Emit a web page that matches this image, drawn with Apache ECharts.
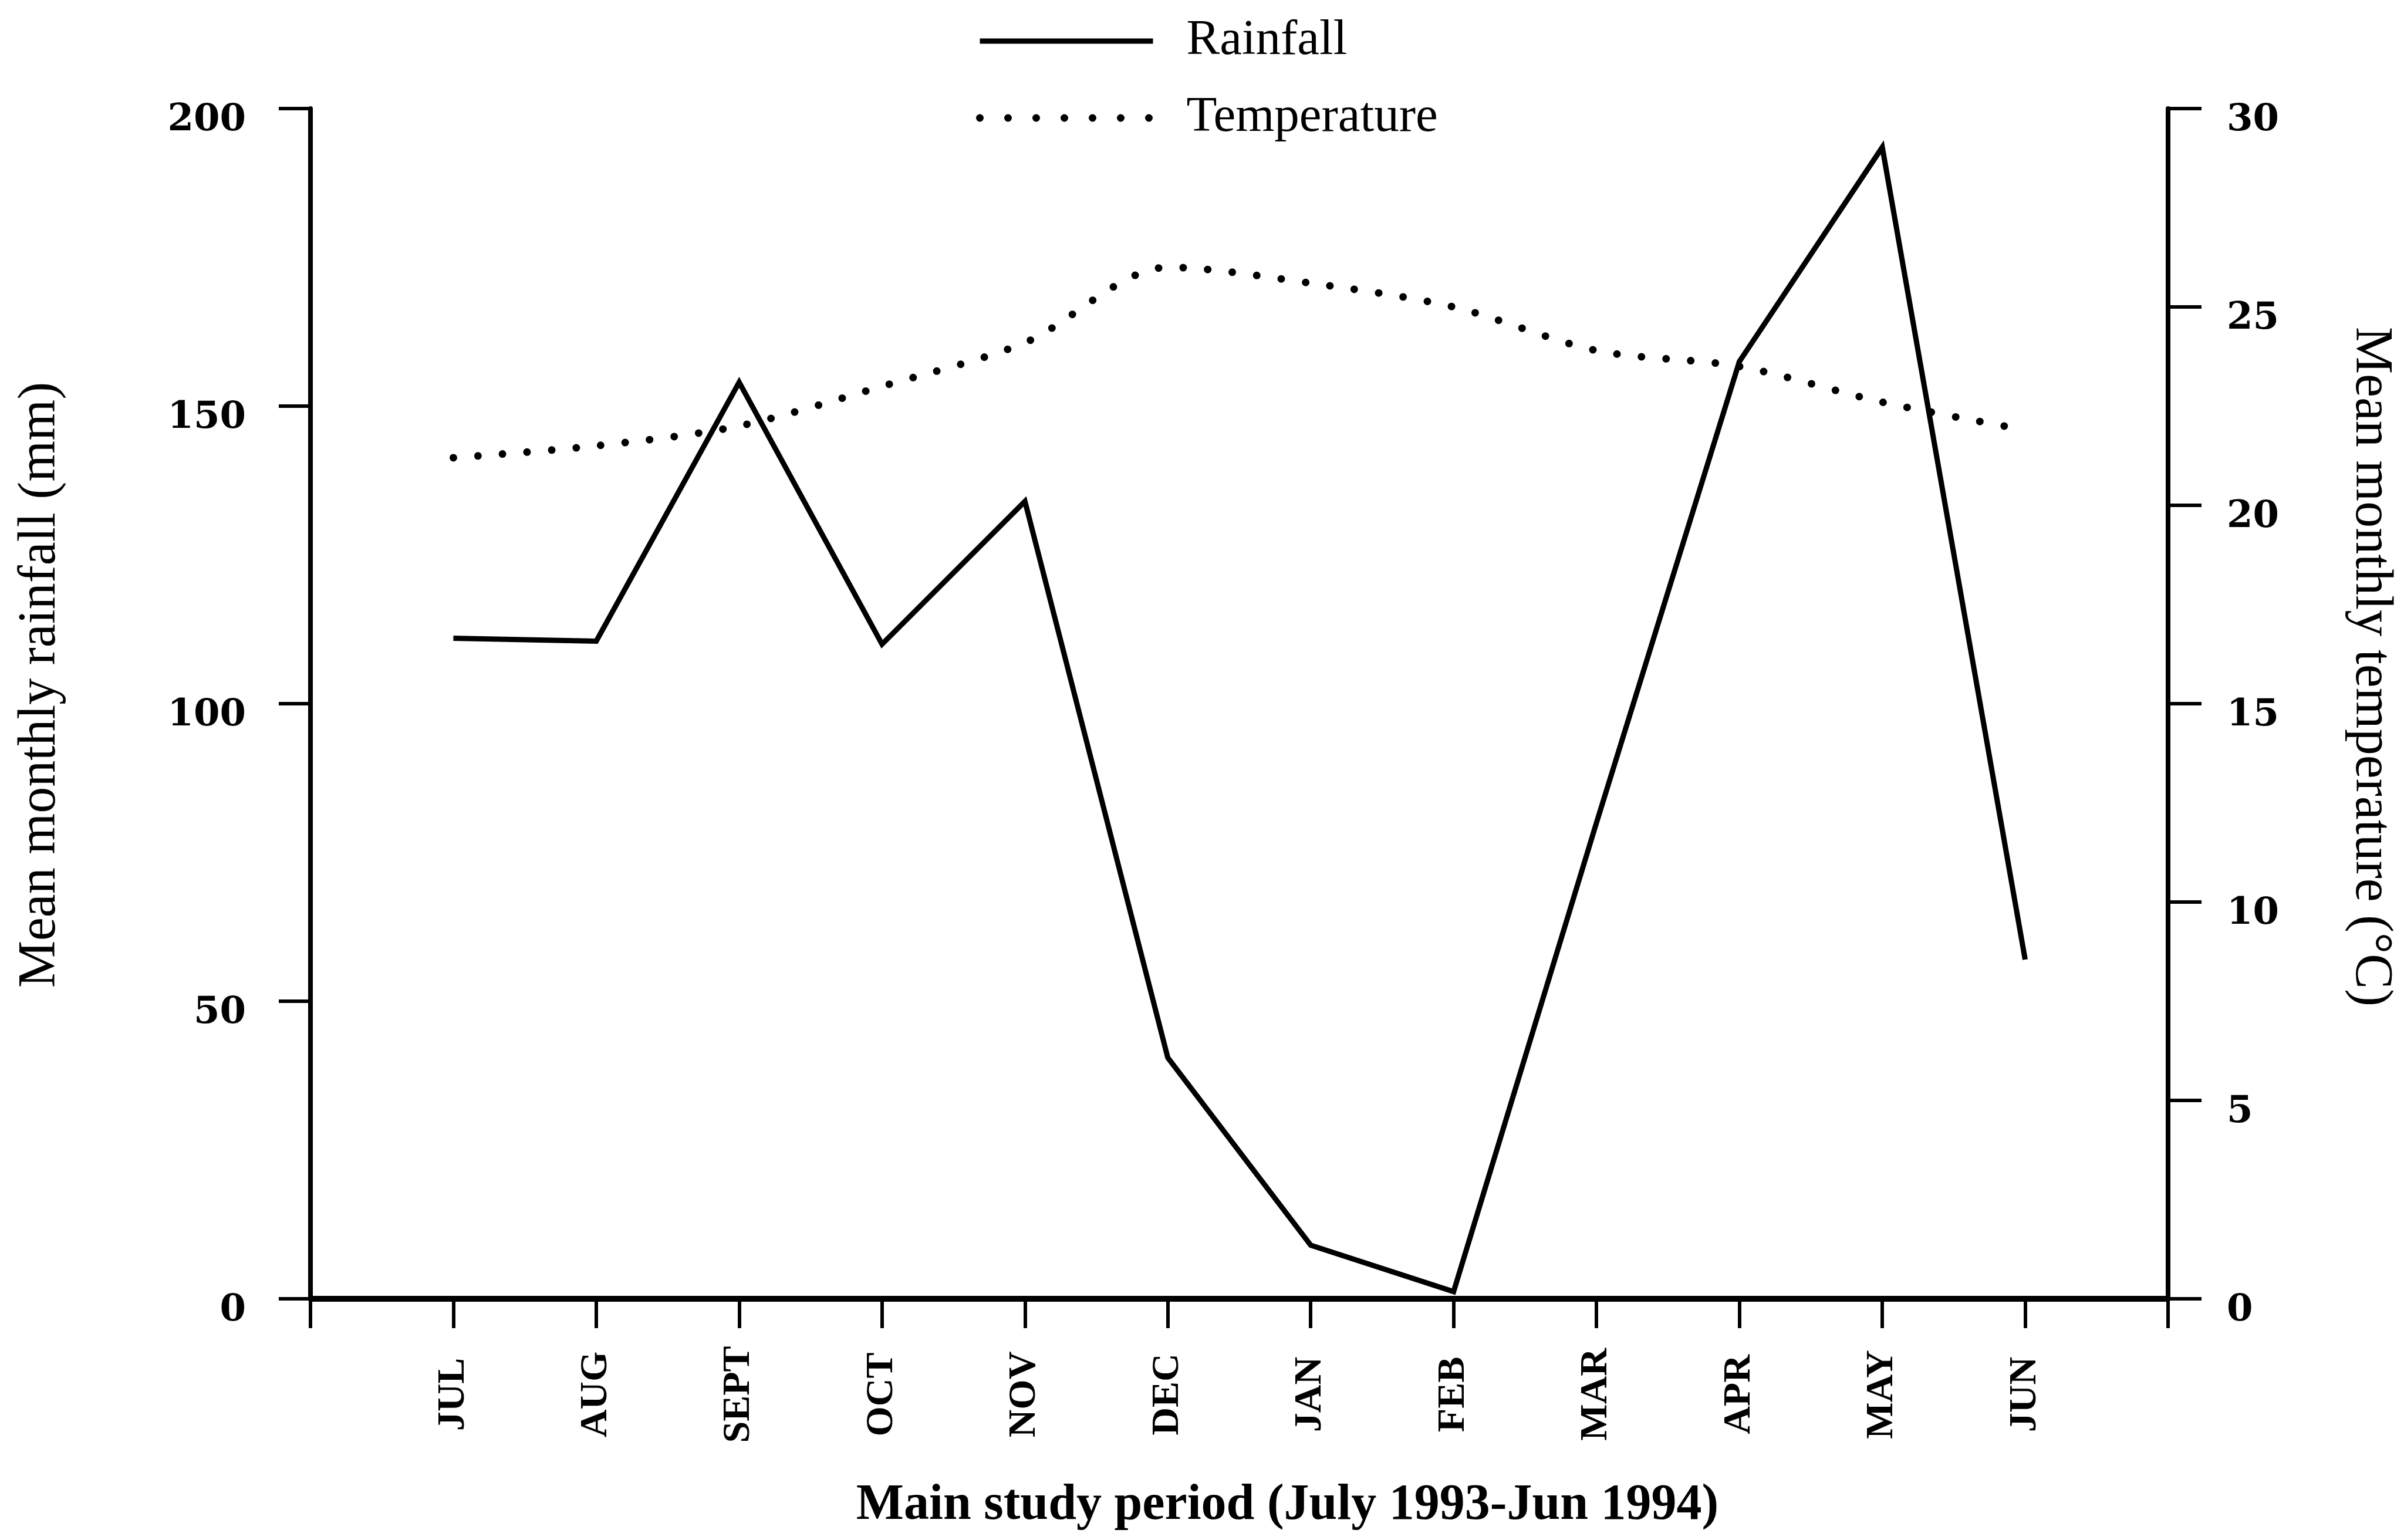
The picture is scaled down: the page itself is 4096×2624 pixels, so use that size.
<!DOCTYPE html>
<html>
<head>
<meta charset="utf-8">
<script src="https://cdn.jsdelivr.net/npm/echarts@6/dist/echarts.min.js"></script>
<style>
  html, body { margin: 0; padding: 0; background: #fff; }
  #chart { width: 4096px; height: 2624px; }
</style>
</head>
<body>
<div id="chart"></div>
<script>
const months = ['JUL', 'AUG', 'SEPT', 'OCT', 'NOV', 'DEC', 'JAN', 'FEB', 'MAR', 'APR', 'MAY', 'JUN']
const rainfall = [111, 110.5, 154, 110, 134, 40.5, 9, 1.2, 80, 157.5, 193.5, 57]
const temperature = [21.2, 21.5, 22.0, 23.0, 24.1, 26.0, 25.6, 25.0, 23.9, 23.5, 22.6, 21.9]
const rainTicks = [0, 50, 100, 150, 200]
const tempTicks = [0, 5, 10, 15, 20, 25, 30]

const serif = 'Liberation Serif'

const myChart = echarts.init(document.getElementById('chart'))

// number labels sit a little below their ticks in the original
const numLabel = {
  fontFamily: 'DejaVu Serif',
  fontWeight: 'bold',
  fontSize: 64,
  color: '#000',
  verticalAlign: 'top',
  lineHeight: 40
}

const option = {
  backgroundColor: '#fff',
  animation: false,
  color: ['#000', '#000'],
  legend: {
    orient: 'vertical',
    left: 1658,
    top: 20,
    itemWidth: 295,
    itemHeight: 30,
    itemGap: 41,
    itemStyle: { opacity: 0 },
    data: [{
      name: 'Rainfall',
      lineStyle: { color: '#000', width: 9, type: 'solid' }
    }, {
      name: 'Temperature',
      lineStyle: { color: '#000', width: 13, type: [0, 48], cap: 'round' }
    }],
    textStyle: {
      fontFamily: serif,
      fontSize: 85,
      color: '#000',
      lineHeight: 90,
      padding: [0, 0, 0, 52]
    }
  },
  grid: {
    left: 529,
    right: 402,
    top: 185,
    bottom: 411
  },
  xAxis: {
    type: 'value',
    min: 0,
    max: 13,
    interval: 1,
    name: 'Main study period (July 1993-Jun 1994)',
    nameLocation: 'middle',
    nameGap: 310,
    nameTextStyle: {
      fontFamily: serif,
      fontWeight: 'bold',
      fontSize: 86,
      color: '#000',
      padding: [0, 0, 0, 164]
    },
    axisLine: { lineStyle: { color: '#000', width: 10 } },
    axisTick: { length: 50, lineStyle: { color: '#000', width: 6 } },
    axisLabel: {
      rotate: 90,
      align: 'center',
      margin: 163,
      fontFamily: serif,
      fontWeight: 'bold',
      fontSize: 66,
      color: '#000',
      formatter: function (v) { return months[v - 1] || '' }
    },
    splitLine: { show: false }
  },
  yAxis: [{
    type: 'value',
    min: rainTicks[0],
    max: rainTicks[rainTicks.length - 1],
    interval: 50,
    name: 'Mean monthly rainfall (mm)',
    nameLocation: 'middle',
    nameGap: 415,
    nameTextStyle: {
      fontFamily: serif,
      fontSize: 90,
      color: '#000',
      padding: [0, 0, 0, 64]
    },
    axisLine: { show: true, lineStyle: { color: '#000', width: 8 } },
    axisTick: { length: 54, lineStyle: { color: '#000', width: 6 } },
    axisLabel: Object.assign({ margin: 110 }, numLabel),
    splitLine: { show: false }
  }, {
    type: 'value',
    position: 'right',
    min: tempTicks[0],
    max: tempTicks[tempTicks.length - 1],
    interval: 5,
    name: 'Mean monthly temperature (°C)',
    nameLocation: 'middle',
    nameRotate: -90,
    nameGap: 300,
    nameTextStyle: {
      fontFamily: serif,
      fontSize: 90,
      color: '#000',
      padding: [0, 126, 0, 0]
    },
    axisLine: { show: true, lineStyle: { color: '#000', width: 8 } },
    axisTick: { length: 57, lineStyle: { color: '#000', width: 6 } },
    axisLabel: Object.assign({ margin: 100 }, numLabel),
    splitLine: { show: false }
  }],
  series: [{
    name: 'Rainfall',
    type: 'line',
    yAxisIndex: 0,
    symbol: 'none',
    data: months.map((m, i) => [i + 1, rainfall[i]]),
    itemStyle: { color: '#000' },
    lineStyle: { color: '#000', width: 9, join: 'miter' }
  }, {
    name: 'Temperature',
    type: 'line',
    yAxisIndex: 1,
    symbol: 'none',
    smooth: 0.3,
    data: months.map((m, i) => [i + 1, temperature[i]]),
    itemStyle: { color: '#000' },
    lineStyle: { color: '#000', width: 13, type: [0, 42], cap: 'round' }
  }]
}

myChart.setOption(option)
</script>
</body>
</html>
